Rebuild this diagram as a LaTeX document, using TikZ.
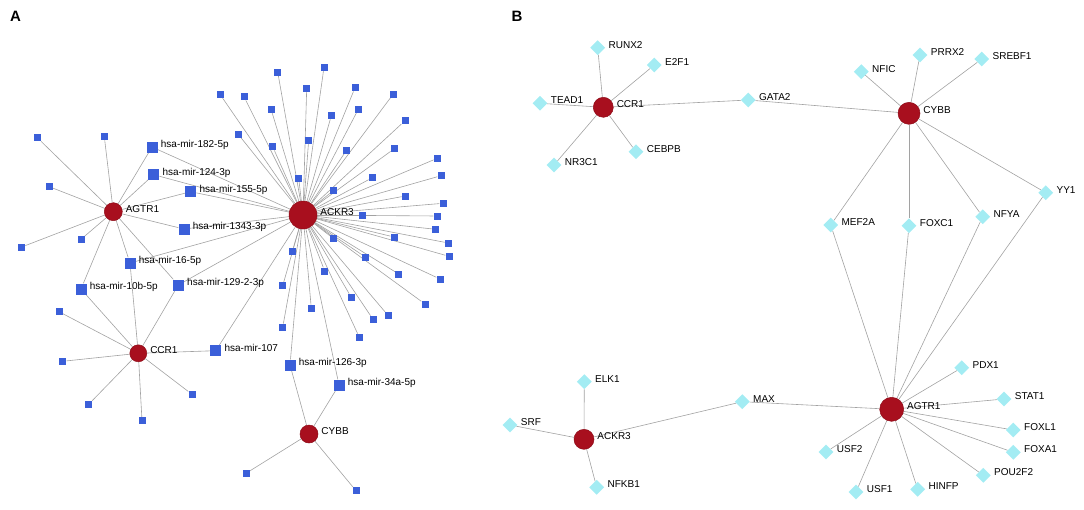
\documentclass[tikz,border=0pt]{standalone}
\usepackage{fontspec}
\setmainfont{Liberation Sans}
\usetikzlibrary{shapes.geometric,backgrounds}
\definecolor{hubred}{HTML}{A80F1E}
\definecolor{hubdark}{HTML}{8E0C18}
\definecolor{mirblue}{HTML}{3B5FD9}
\definecolor{tfcyan}{HTML}{A3ECF3}
\definecolor{edgegray}{HTML}{A2A2A2}
\tikzset{
  hub/.style={circle, fill=hubred, draw=hubdark, line width=0.5pt, inner sep=0pt, minimum size=#1},
  mir/.style={rectangle, fill=mirblue, inner sep=0pt, minimum size=11pt},
  leaf/.style={rectangle, fill=mirblue, inner sep=0pt, minimum size=7pt},
  tf/.style={diamond, fill=tfcyan, inner sep=0pt, minimum size=15pt},
  edge/.style={draw=edgegray, line width=0.6pt},
  lbl/.style={font=\fontsize{10}{12}\selectfont, inner sep=0pt, text height=7pt, text depth=2pt, yshift=2pt},
  panel/.style={font=\fontsize{15}{17}\selectfont\bfseries, inner sep=0pt},
  label distance=3pt
}
\begin{document}
\begin{tikzpicture}[x=1pt,y=-1pt]
\useasboundingbox (0,0) rectangle (1084,509);
\node[panel] (pA) at (15.5,16) {A};
\node[panel] (pB) at (517,16) {B};
% ---------- Panel A ----------
\node[hub=28pt, label={[lbl]right:ACKR3}] (ACKR3a) at (303,215) {};
\node[hub=18pt, label={[lbl]right:AGTR1}] (AGTR1a) at (113.3,211.7) {};
\node[hub=17pt, label={[lbl]right:CCR1}] (CCR1a) at (138.3,353.3) {};
\node[hub=18pt, label={[lbl]right:CYBB}] (CYBBa) at (309,434) {};
\node[mir, label={[lbl]right:hsa-mir-182-5p}] (m182) at (152,147) {};
\node[mir, label={[lbl]right:hsa-mir-124-3p}] (m124) at (153.7,174.7) {};
\node[mir, label={[lbl]right:hsa-mir-155-5p}] (m155) at (190.7,191.7) {};
\node[mir, label={[lbl]right:hsa-mir-1343-3p}] (m1343) at (184,229) {};
\node[mir, label={[lbl]right:hsa-mir-16-5p}] (m16) at (130,263) {};
\node[mir, label={[lbl]right:hsa-mir-10b-5p}] (m10b) at (81,289) {};
\node[mir, label={[lbl]right:hsa-mir-129-2-3p}] (m129) at (178.3,285) {};
\node[mir, label={[lbl]right:hsa-mir-107}] (m107) at (215.7,350.7) {};
\node[mir, label={[lbl]right:hsa-mir-126-3p}] (m126) at (290,365) {};
\node[mir, label={[lbl]right:hsa-mir-34a-5p}] (m34a) at (339,385) {};
\foreach \x/\y [count=\i] in {37.3/137.7,104.3/136.7,49.3/186.7,81/239.3,21.7/247}
  \node[leaf] (ga\i) at (\x,\y) {};
\foreach \x/\y [count=\i] in {59/311.7,62.7/361.3,88.7/404.3,142/420.7,192/394.3}
  \node[leaf] (ca\i) at (\x,\y) {};
\foreach \x/\y [count=\i] in {246/473.3,356/490.7}
  \node[leaf] (ya\i) at (\x,\y) {};
\foreach \x/\y [count=\i] in {220/94.3,244/96.7,238/134,277.7/72,324/67.3,306.7/88.3,355/87.7,393.3/94,271/109,358.3/109.3,331.3/115.7,405/120.7,272.7/146.7,308.7/140,346.7/150,394.3/148.7,437.3/158.3,298.7/178.3,372.3/177.7,441/175.7,333.7/190.3,405.3/196,443/203.3,362.3/215,437/216,435.7/229.3,394/237,333.7/238.7,448.3/243,449/256.3,292.3/251.3,365.7/257.3,398.7/274,440/279,324.7/271,282.7/285.7,351.3/297.3,425/304,311.3/308.3,388.3/315.7,373/319.3,282.7/327.3,359.3/337.3}
  \node[leaf] (ka\i) at (\x,\y) {};
% ---------- Panel B ----------
\node[hub=20pt, label={[lbl]right:CCR1}] (CCR1b) at (603.3,107.3) {};
\node[hub=22pt, label={[lbl]right:CYBB}] (CYBBb) at (909,113.3) {};
\node[hub=24pt, label={[lbl]right:AGTR1}] (AGTR1b) at (891.7,409.3) {};
\node[hub=20pt, label={[lbl]right:ACKR3}] (ACKR3b) at (584,439.3) {};
\foreach \n/\x/\y in {RUNX2/597.7/47.7, E2F1/654.3/65, TEAD1/540/103.3, GATA2/748.3/100, CEBPB/636/151.7, NR3C1/554/165,
  NFIC/861.3/71.7, PRRX2/920/55, SREBF1/981.7/59, YY1/1045.7/192.7, MEF2A/830.7/225, FOXC1/909/225.7, NFYA/982.7/216.7,
  PDX1/961.7/367.7, STAT1/1004/399, FOXL1/1013.3/430, FOXA1/1013.3/452.3, USF2/826/452, POU2F2/983.3/475.3, USF1/856/492, HINFP/917.7/489.3,
  ELK1/584.3/381.7, MAX/742.3/401.7, SRF/510/425, NFKB1/596.7/487.3}
  \node[tf, label={[lbl]right:\n}] (\n) at (\x,\y) {};
% ---------- Edges ----------
\begin{pgfonlayer}{background}
\foreach \t in {ga1,ga2,ga3,ga4,ga5,m182,m124,m155,m1343,m16,m10b,m129}
  \draw[edge] (AGTR1a) -- (\t);
\foreach \t in {ca1,ca2,ca3,ca4,ca5,m16,m10b,m129,m107}
  \draw[edge] (CCR1a) -- (\t);
\foreach \t in {ya1,ya2,m126,m34a}
  \draw[edge] (CYBBa) -- (\t);
\foreach \t in {m182,m124,m155,m1343,m16,m129,m107,m126,m34a}
  \draw[edge] (ACKR3a) -- (\t);
\foreach \i in {1,...,43}
  \draw[edge] (ACKR3a) -- (ka\i);
\foreach \t in {RUNX2,E2F1,TEAD1,CEBPB,NR3C1,GATA2}
  \draw[edge] (CCR1b) -- (\t);
\foreach \t in {GATA2,NFIC,PRRX2,SREBF1,MEF2A,FOXC1,NFYA,YY1}
  \draw[edge] (CYBBb) -- (\t);
\foreach \t in {MEF2A,FOXC1,NFYA,YY1,MAX,PDX1,STAT1,FOXL1,FOXA1,POU2F2,HINFP,USF1,USF2}
  \draw[edge] (AGTR1b) -- (\t);
\foreach \t in {ELK1,SRF,NFKB1,MAX}
  \draw[edge] (ACKR3b) -- (\t);
\end{pgfonlayer}
\end{tikzpicture}
\end{document}
